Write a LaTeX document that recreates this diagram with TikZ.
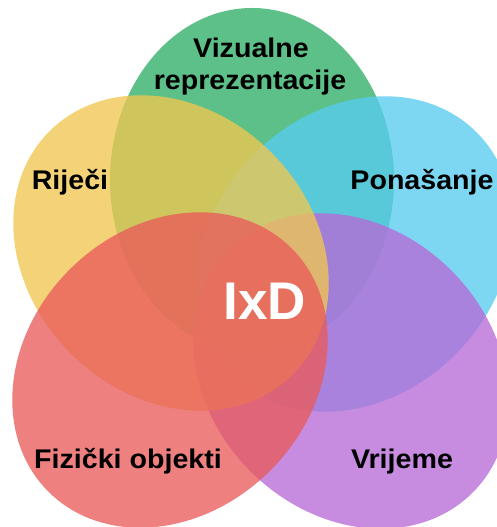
\documentclass[tikz,border=0pt]{standalone}
\usepackage{fontspec}
\setmainfont{Liberation Sans}
\newfontfamily\lblfont{Liberation Sans}[FakeStretch=1.06]
\definecolor{cgreen}{RGB}{45,174,102}
\definecolor{ccyan}{RGB}{87,204,240}
\definecolor{cpurple}{RGB}{183,105,215}
\definecolor{cyellow}{RGB}{241,199,80}
\definecolor{cred}{RGB}{233,90,90}
\tikzset{
  petal/.style={fill=#1, fill opacity=0.77, draw=none},
  lbl/.style={anchor=base, inner sep=0pt, font=\lblfont\fontsize{27}{32}\selectfont\bfseries, text=black},
}
\begin{document}
\begin{tikzpicture}[x=1pt,y=1pt]
\useasboundingbox (0,0) rectangle (497,527);
\clip (0,0) rectangle (497,527);
\fill[white] (0,0) rectangle (497,527);
% petals
\path[petal=cgreen] (252,347) ellipse [x radius=142, y radius=172];
\path[petal=ccyan, shift={(355,273)}, rotate=45] (0,0) ellipse [x radius=172, y radius=142];
\path[petal=cpurple, shift={(351,156)}, rotate=-45] (0,0) ellipse [x radius=172, y radius=142];
\path[petal=cyellow, shift={(171,274)}, rotate=-45] (0,0) ellipse [x radius=172, y radius=142];
\path[petal=cred, shift={(170,157)}, rotate=45] (0,0) ellipse [x radius=172, y radius=142];
% labels
\node[lbl] (viz1) at (251,469) {Vizualne};
\node[lbl] (viz2) at (250,437) {reprezentacije};
\node[lbl] (rijeci) at (70,337) {Riječi};
\node[lbl] (ponasanje) at (422,337) {Ponašanje};
\node[lbl, text=white, font=\fontsize{53}{60}\selectfont\bfseries] (ixd) at (265,207) {IxD};
\node[lbl] (fizicki) at (128,58) {Fizički objekti};
\node[lbl] (vrijeme) at (402,58) {Vrijeme};
\end{tikzpicture}
\end{document}
